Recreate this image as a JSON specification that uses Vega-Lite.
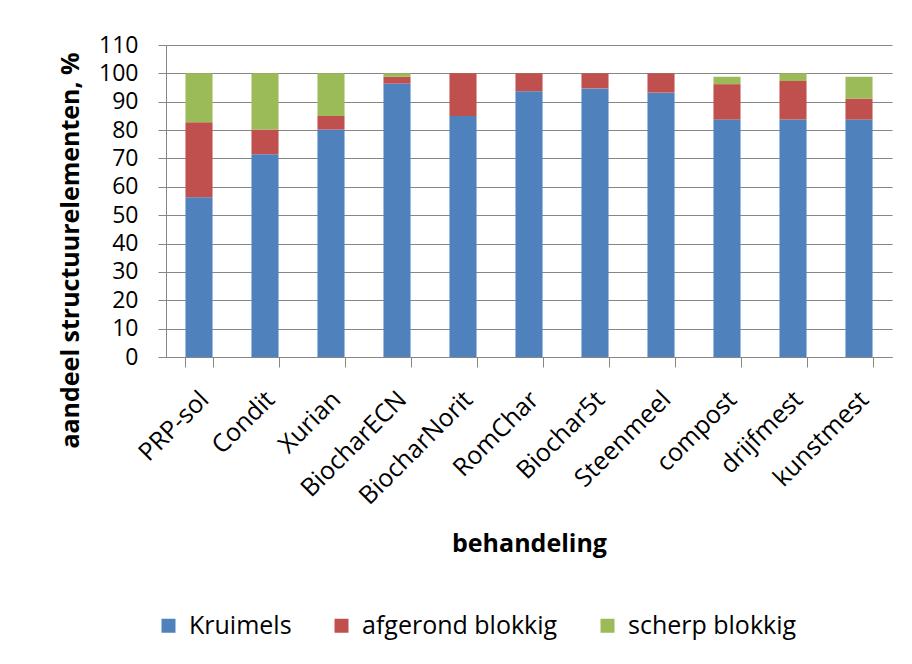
{
  "$schema": "https://vega.github.io/schema/vega-lite/v6.json",
  "width": 726,
  "height": 312,
  "autosize": "none",
  "padding": {"left": 166, "top": 45, "right": 20, "bottom": 307},
  "background": "white",
  "config": {
    "view": {"stroke": null},
    "font": "Open Sans"
  },
  "data": {
    "values": [
      {"behandeling": "PRP-sol", "type": "Kruimels", "waarde": 56.3},
      {"behandeling": "PRP-sol", "type": "afgerond blokkig", "waarde": 26.5},
      {"behandeling": "PRP-sol", "type": "scherp blokkig", "waarde": 17.2},
      {"behandeling": "Condit", "type": "Kruimels", "waarde": 71.5},
      {"behandeling": "Condit", "type": "afgerond blokkig", "waarde": 8.7},
      {"behandeling": "Condit", "type": "scherp blokkig", "waarde": 19.8},
      {"behandeling": "Xurian", "type": "Kruimels", "waarde": 80.2},
      {"behandeling": "Xurian", "type": "afgerond blokkig", "waarde": 4.8},
      {"behandeling": "Xurian", "type": "scherp blokkig", "waarde": 15.0},
      {"behandeling": "BiocharECN", "type": "Kruimels", "waarde": 96.4},
      {"behandeling": "BiocharECN", "type": "afgerond blokkig", "waarde": 2.4},
      {"behandeling": "BiocharECN", "type": "scherp blokkig", "waarde": 1.2},
      {"behandeling": "BiocharNorit", "type": "Kruimels", "waarde": 85.0},
      {"behandeling": "BiocharNorit", "type": "afgerond blokkig", "waarde": 15.0},
      {"behandeling": "BiocharNorit", "type": "scherp blokkig", "waarde": 0},
      {"behandeling": "RomChar", "type": "Kruimels", "waarde": 93.7},
      {"behandeling": "RomChar", "type": "afgerond blokkig", "waarde": 6.3},
      {"behandeling": "RomChar", "type": "scherp blokkig", "waarde": 0},
      {"behandeling": "Biochar5t", "type": "Kruimels", "waarde": 94.7},
      {"behandeling": "Biochar5t", "type": "afgerond blokkig", "waarde": 5.3},
      {"behandeling": "Biochar5t", "type": "scherp blokkig", "waarde": 0},
      {"behandeling": "Steenmeel", "type": "Kruimels", "waarde": 93.2},
      {"behandeling": "Steenmeel", "type": "afgerond blokkig", "waarde": 6.8},
      {"behandeling": "Steenmeel", "type": "scherp blokkig", "waarde": 0},
      {"behandeling": "compost", "type": "Kruimels", "waarde": 83.7},
      {"behandeling": "compost", "type": "afgerond blokkig", "waarde": 12.5},
      {"behandeling": "compost", "type": "scherp blokkig", "waarde": 2.6},
      {"behandeling": "drijfmest", "type": "Kruimels", "waarde": 83.7},
      {"behandeling": "drijfmest", "type": "afgerond blokkig", "waarde": 13.6},
      {"behandeling": "drijfmest", "type": "scherp blokkig", "waarde": 2.7},
      {"behandeling": "kunstmest", "type": "Kruimels", "waarde": 83.7},
      {"behandeling": "kunstmest", "type": "afgerond blokkig", "waarde": 7.4},
      {"behandeling": "kunstmest", "type": "scherp blokkig", "waarde": 7.7}
    ]
  },
  "mark": {"type": "bar"},
  "encoding": {
    "x": {
      "field": "behandeling",
      "type": "nominal",
      "sort": null,
      "scale": {"paddingInner": 0.59, "paddingOuter": 0.295},
      "axis": {
        "title": "behandeling",
        "titleFont": "Open Sans",
        "titleFontSize": 25,
        "titleFontWeight": "bold",
        "titleColor": "#000000",
        "titleY": 186,
        "titleBaseline": "middle",
        "labelAngle": -45,
        "labelAlign": "right",
        "labelBaseline": "middle",
        "labelFontSize": 25,
        "labelColor": "#000000",
        "labelPadding": 28,
        "labelOffset": 5,
        "tickBand": "extent",
        "tickSize": 10,
        "tickColor": "#868686",
        "domainColor": "#868686",
        "grid": false
      }
    },
    "y": {
      "field": "waarde",
      "type": "quantitative",
      "stack": "zero",
      "scale": {"domain": [0, 110], "nice": false},
      "axis": {
        "title": "aandeel structuurelementen, %",
        "titleFont": "Open Sans",
        "titleFontSize": 25,
        "titleFontWeight": "bold",
        "titleColor": "#000000",
        "titleX": -96,
        "titleY": 205,
        "titleBaseline": "middle",
        "values": [0, 10, 20, 30, 40, 50, 60, 70, 80, 90, 100, 110],
        "labelFontSize": 23,
        "labelColor": "#000000",
        "labelPadding": 20,
        "tickSize": 8,
        "tickColor": "#868686",
        "domainColor": "#868686",
        "grid": true,
        "gridColor": "#868686",
        "gridOpacity": 1
      }
    },
    "color": {
      "field": "type",
      "type": "nominal",
      "sort": ["Kruimels", "afgerond blokkig", "scherp blokkig"],
      "scale": {
        "domain": ["Kruimels", "afgerond blokkig", "scherp blokkig"],
        "range": ["#4F81BD", "#C0504D", "#9BBB59"]
      },
      "legend": {
        "title": null,
        "orient": "none",
        "direction": "horizontal",
        "legendX": -10,
        "legendY": 568,
        "symbolType": "square",
        "symbolSize": 196,
        "symbolStrokeWidth": 0,
        "labelFontSize": 25,
        "labelColor": "#000000",
        "labelOffset": 8,
        "columnPadding": 37,
        "labelLimit": 400
      }
    },
    "order": {"field": "type", "sort": "ascending"}
  }
}
